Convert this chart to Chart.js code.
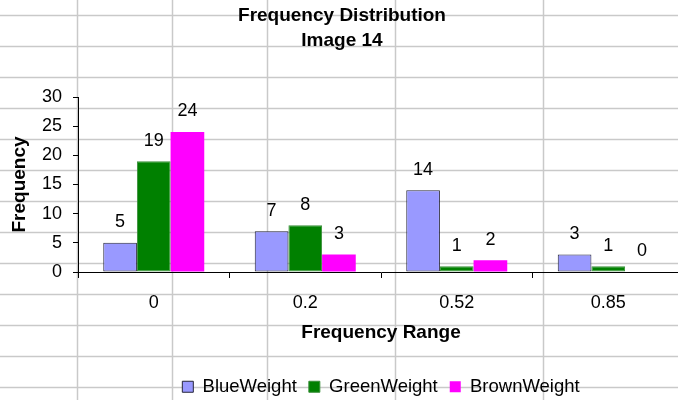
<!DOCTYPE html>
<html>
<head>
<meta charset="utf-8">
<script src="https://cdn.jsdelivr.net/npm/chart.js@4"></script>
<style>
  html, body { margin: 0; padding: 0; width: 678px; height: 400px; overflow: hidden; background: #ffffff; }
  #wrap { position: relative; width: 689px; height: 406px; }
  canvas { display: block; }
</style>
</head>
<body>
<div id="wrap"><canvas id="chart" width="689" height="406"></canvas></div>
<script>
// Frequency counts per range for each colour weight
const categories = ['0', '0.2', '0.52', '0.85'];
const blueWeight = [5, 7, 14, 3];
const greenWeight = [19, 8, 1, 1];
const brownWeight = [24, 3, 2, 0];
const yTickMin = 0;
const yTickMax = 30;
const yTickStep = 5;
const chartTitle = ['Frequency Distribution', 'Image 14'];
const xTitle = 'Frequency Range';
const yTitle = 'Frequency';

const FONT = '"Liberation Sans", Arial, sans-serif';

// Worksheet cell lines drawn behind the chart, plus the white legend panel
const sheetBackground = {
  id: 'sheetBackground',
  beforeDraw(chart, args, opts) {
    const ctx = chart.ctx;
    const w = chart.width, h = chart.height;
    ctx.save();
    ctx.strokeStyle = opts.lineColor;
    ctx.lineWidth = opts.lineWidth;
    opts.columns.forEach(x => {
      ctx.beginPath(); ctx.moveTo(x + 0.5, 0); ctx.lineTo(x + 0.5, h); ctx.stroke();
    });
    opts.rows.forEach(y => {
      ctx.beginPath(); ctx.moveTo(0, y + 0.5); ctx.lineTo(w, y + 0.5); ctx.stroke();
    });
    // legend panel
    const boxes = chart.legend && chart.legend.legendHitBoxes;
    if (boxes && boxes.length) {
      const first = boxes[0], last = boxes[boxes.length - 1];
      const mid = first.top + first.height / 2;
      ctx.fillStyle = '#ffffff';
      ctx.fillRect(first.left - 6, mid - 19, last.left + last.width - first.left + 13, 40);
    }
    ctx.restore();
  }
};

// Centre the legend row under the plot area
const legendUnderPlot = {
  id: 'legendUnderPlot',
  afterLayout(chart) {
    const lg = chart.legend, ca = chart.chartArea;
    if (!lg) return;
    const dx = (ca.left + ca.right) / 2 - (lg.left + lg.right) / 2;
    lg.left += dx;
    lg.right += dx;
    lg.adjustHitBoxes();
  }
};

// Value printed above every bar
const barValueLabels = {
  id: 'barValueLabels',
  afterDatasetsDraw(chart, args, opts) {
    const ctx = chart.ctx;
    ctx.save();
    ctx.font = opts.font;
    ctx.fillStyle = opts.color;
    ctx.textAlign = 'center';
    ctx.textBaseline = 'middle';
    chart.data.datasets.forEach((ds, di) => {
      chart.getDatasetMeta(di).data.forEach((bar, i) => {
        ctx.fillText(String(ds.data[i]), bar.x, bar.y - opts.offset);
      });
    });
    ctx.restore();
  }
};

new Chart(document.getElementById('chart'), {
  type: 'bar',
  data: {
    labels: categories,
    datasets: [
      { label: 'BlueWeight', data: blueWeight, backgroundColor: '#9999ff', borderColor: '#26263a', borderWidth: 1, borderSkipped: false },
      { label: 'GreenWeight', data: greenWeight, backgroundColor: '#008000', borderColor: '#3a8f3a', borderWidth: 1, borderSkipped: false },
      { label: 'BrownWeight', data: brownWeight, backgroundColor: '#ff00ff', borderColor: '#ff00ff', borderWidth: 0, borderSkipped: false }
    ]
  },
  options: {
    responsive: false,
    animation: false,
    devicePixelRatio: 1,
    categoryPercentage: 3 / 4.5,
    barPercentage: 1,
    layout: { padding: { left: 0, right: 5, top: 0, bottom: 0 } },
    scales: {
      x: {
        grid: { display: true, drawOnChartArea: false, drawTicks: true, tickLength: 6, color: '#000000', lineWidth: 1 },
        border: { display: true, color: '#000000', width: 1 },
        ticks: { color: '#000000', font: { family: FONT, size: 18 }, padding: 14, maxRotation: 0 },
        title: { display: true, text: xTitle, color: '#000000', font: { family: FONT, size: 19, weight: 'bold' }, padding: { top: 0, bottom: 21 } },
        afterFit(scale) { scale.height = 93.5; }
      },
      y: {
        min: yTickMin,
        max: yTickMax,
        grid: { display: true, drawOnChartArea: false, drawTicks: true, tickLength: 5, color: '#000000', lineWidth: 1 },
        border: { display: true, color: '#000000', width: 1 },
        ticks: { stepSize: yTickStep, color: '#000000', font: { family: FONT, size: 18 }, padding: 11 },
        title: { display: true, text: yTitle, color: '#000000', font: { family: FONT, size: 19, weight: 'bold' }, padding: { top: 8.6, bottom: 0 } },
        afterFit(scale) { scale.width = 78; }
      }
    },
    plugins: {
      title: {
        display: true,
        text: chartTitle,
        color: '#000000',
        font: { family: FONT, size: 19, weight: 'bold', lineHeight: 25 / 19 },
        padding: { top: 3.5, bottom: 43.5 }
      },
      legend: {
        display: true,
        position: 'bottom',
        labels: { color: '#000000', font: { family: FONT, size: 18.5 }, boxWidth: 11, boxHeight: 11, padding: 12 }
      },
      tooltip: { enabled: false },
      sheetBackground: {
        lineColor: '#c9c9c9',
        lineWidth: 1.5,
        columns: [77, 172, 267, 395, 543],
        rows: [15, 46, 77, 108, 139, 170, 201, 232, 263, 294, 325, 356, 387]
      },
      barValueLabels: { font: '18px ' + FONT, color: '#000000', offset: 20.5 }
    }
  },
  plugins: [sheetBackground, legendUnderPlot, barValueLabels]
});
</script>
</body>
</html>
